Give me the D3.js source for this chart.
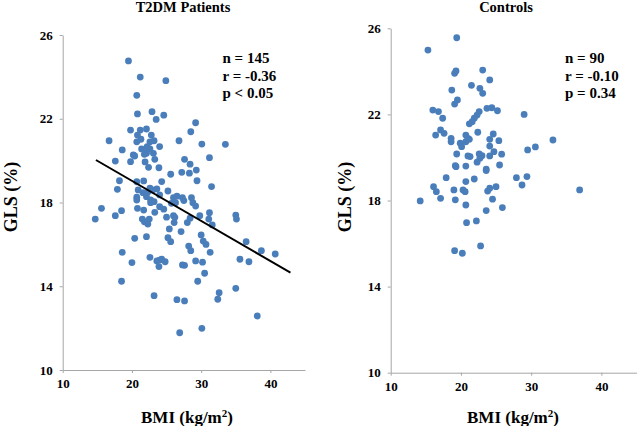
<!DOCTYPE html>
<html>
<head>
<meta charset="utf-8">
<script src="https://cdn.jsdelivr.net/npm/d3@7"></script>
<style>
  body { margin: 0; background: #fff; }
  text { font-family: "Liberation Serif", "Times New Roman", serif; font-weight: bold; fill: #000; }
  .axis path, .axis line { stroke: #a6a6a6; }
</style>
</head>
<body>
<div id="chart"></div>
<script>
// T2DM patients: BMI (kg/m2) vs GLS (%)
var t2dmBMI = [19.5,21.2,24.9,20.7,20.8,22.9,24.6,23.5,29.2,28.5,19.8,21.2,22.1,20.8,21.3,20.7,22.8,23.2,22.6,22.2,
  16.7,26.8,30.1,33.5,24.0,21.4,22.1,22.6,23.1,22.1,18.6,20.2,20.4,23.3,19.8,17.6,21.9,22.4,23.9,31.2,
  27.6,28.4,25.6,27.2,28.3,29.3,29.4,31.5,18.2,17.9,20.7,21.7,20.9,21.6,22.6,23.0,23.6,20.7,22.1,22.7,
  23.2,25.2,24.0,26.0,27.3,27.5,28.6,28.8,29.2,14.7,15.6,17.6,18.5,20.8,21.7,21.5,21.8,22.3,22.5,22.7,
  24.0,24.6,23.3,25.7,26.0,26.2,26.1,28.0,28.4,29.8,31.2,31.1,31.6,35.0,35.1,25.4,27.1,25.2,25.6,30.0,
  30.3,30.7,28.2,28.5,31.3,36.5,24.0,24.8,27.3,27.6,29.2,30.2,30.5,29.5,35.6,36.9,32.6,32.4,35.0,26.5,
  27.6,26.9,30.1,38.1,20.4,22.1,18.6,20.0,22.6,23.6,23.9,24.3,18.5,23.2,38.7,40.7,26.3,20.7,22.3,24.3,
  26.5,21.8,25.0];
var t2dmGLS = [24.76,23.99,23.82,23.12,22.23,22.34,22.17,21.97,21.81,21.38,21.46,21.46,21.51,21.22,21.02,20.90,21.22,20.95,20.90,20.67,
  20.95,20.95,20.79,20.78,20.67,20.56,20.46,20.56,20.35,20.35,20.51,20.27,20.22,20.06,19.95,19.98,19.94,19.68,19.66,20.14,
  20.06,19.83,19.35,19.44,19.40,19.55,19.04,18.76,19.04,18.63,18.99,19.03,18.60,18.47,18.68,18.60,18.65,18.25,18.28,18.12,
  18.04,18.55,18.36,18.23,18.23,18.09,18.23,17.99,17.83,17.21,17.72,17.37,17.61,17.72,17.64,17.21,17.08,16.97,17.21,17.99,
  17.80,17.68,17.53,17.96,17.37,17.29,17.04,17.04,17.25,17.37,17.51,17.21,16.93,17.40,17.21,16.74,16.61,16.32,16.13,16.45,
  16.16,16.00,15.92,15.70,15.62,16.13,15.25,15.17,15.02,15.00,15.21,15.15,14.62,14.24,15.29,15.17,13.69,13.38,13.90,13.36,
  13.30,11.78,11.99,12.58,16.29,16.37,15.62,15.13,15.38,15.21,14.94,15.29,14.24,13.55,15.70,15.54,17.99,18.12,18.50,19.00,
  18.30,20.30,17.30];
var t2dmFitBMI = [14.8, 42.9];
var t2dmFitGLS = [20.03, 14.65];
var t2dmStats = ["n = 145", "r = -0.36", "p < 0.05"];

// Controls
var ctrlBMI = [19.4,15.3,19.3,19.1,23.1,24.1,18.7,21.5,22.7,23.1,19.5,19.1,16.0,16.8,17.4,23.7,24.4,25.2,22.6,22.3,
  21.9,21.6,21.2,29.0,17.1,17.6,16.4,18.6,18.6,20.7,21.0,22.4,24.6,19.9,20.1,20.7,21.2,24.1,25.4,33.1,
  24.1,24.7,30.6,29.5,19.4,21.0,21.3,22.6,23.0,22.7,22.3,24.1,25.8,19.2,19.3,20.7,23.6,23.6,25.5,17.9,
  21.9,20.7,27.9,29.4,28.7,16.1,16.5,25.0,24.1,23.8,19.0,20.3,20.6,17.1,19.2,24.5,14.2,36.9,20.7,23.6,
  25.9,20.8,22.2,19.1,20.2,22.8];
var ctrlGLS = [25.56,24.99,24.02,23.91,24.06,23.60,23.13,23.35,23.21,22.98,22.67,22.48,22.20,22.13,21.82,22.28,22.31,22.17,22.13,21.97,
  21.82,21.66,21.56,22.00,21.28,21.12,21.04,20.89,20.73,21.04,20.89,21.17,21.09,20.66,20.50,20.73,20.84,20.84,20.78,20.81,
  20.53,20.27,20.49,20.35,20.16,20.07,20.04,20.16,20.08,19.96,19.78,20.07,20.15,19.62,19.57,19.60,19.39,19.46,19.65,19.06,
  19.00,18.88,19.06,19.11,18.72,18.64,18.41,18.64,18.57,18.44,18.49,18.49,18.41,18.10,18.03,18.06,17.98,18.49,17.79,17.53,
  17.67,16.97,17.05,15.67,15.55,15.89];
var ctrlStats = ["n = 90", "r = -0.10", "p = 0.34"];

var xTicks = [10, 20, 30, 40];
var yTicks = [10, 14, 18, 22, 26];

var width = 638, height = 426;
var dotColor = "#4a7ebb";

var svg = d3.select("#chart").append("svg")
  .attr("width", width)
  .attr("height", height);

function drawPanel(opt) {
  var x = d3.scaleLinear().domain([10, 45]).range([opt.left, opt.right]);
  var y = d3.scaleLinear().domain([10, 26]).range([opt.bottom, opt.top]);

  var g = svg.append("g");

  var xAxis = d3.axisBottom(x).tickValues(xTicks).tickSize(3).tickPadding(6).tickSizeOuter(0);
  var yAxis = d3.axisLeft(y).tickValues(yTicks).tickSize(3).tickPadding(7).tickSizeOuter(0);

  g.append("g")
    .attr("class", "axis")
    .attr("transform", "translate(0," + opt.bottom + ")")
    .call(xAxis);
  g.append("g")
    .attr("class", "axis")
    .attr("transform", "translate(" + opt.left + ",0)")
    .call(yAxis);

  g.selectAll(".axis text")
    .style("font-family", "Liberation Serif, serif")
    .style("font-weight", "bold")
    .style("font-size", "13px")
    .attr("fill", "#000");

  // dots
  var pts = opt.bmi.map(function(d, i) { return {bmi: d, gls: opt.gls[i]}; });
  g.selectAll("circle.dot").data(pts).enter().append("circle")
    .attr("class", "dot")
    .attr("cx", function(d) { return x(d.bmi); })
    .attr("cy", function(d) { return y(d.gls); })
    .attr("r", 3.4)
    .attr("fill", dotColor);

  // regression line (only for T2DM)
  if (opt.fitX) {
    g.append("line")
      .attr("x1", x(opt.fitX[0])).attr("y1", y(opt.fitY[0]))
      .attr("x2", x(opt.fitX[1])).attr("y2", y(opt.fitY[1]))
      .attr("stroke", "#000")
      .attr("stroke-width", 2);
  }

  // title
  g.append("text")
    .attr("x", opt.titleX).attr("y", 12)
    .attr("text-anchor", "middle")
    .style("font-size", "14.5px")
    .text(opt.title);

  // stats
  g.selectAll("text.stat").data(opt.stats).enter().append("text")
    .attr("class", "stat")
    .attr("x", opt.statX)
    .attr("y", function(d, i) { return opt.statY + i * 17.7; })
    .style("font-size", "15px")
    .text(function(d) { return d; });

  // x title
  var xt = g.append("text")
    .attr("x", opt.xTitleX).attr("y", 423)
    .attr("text-anchor", "middle")
    .style("font-size", "17px");
  xt.append("tspan").text("BMI (kg/m");
  xt.append("tspan").attr("dy", -6).style("font-size", "11px").text("2");
  xt.append("tspan").attr("dy", 6).text(")");

  // y title
  g.append("text")
    .attr("transform", "translate(" + opt.yTitleX + "," + opt.yTitleY + ") rotate(-90)")
    .attr("text-anchor", "middle")
    .style("font-size", "18px")
    .text("GLS (%)");
}

drawPanel({
  left: 62.7, right: 305, top: 35, bottom: 370,
  bmi: t2dmBMI, gls: t2dmGLS, fitX: t2dmFitBMI, fitY: t2dmFitGLS,
  title: "T2DM Patients", titleX: 183,
  stats: t2dmStats, statX: 222.5, statY: 63,
  xTitleX: 187, yTitleX: 17, yTitleY: 197
});

drawPanel({
  left: 390.7, right: 636.5, top: 28.3, bottom: 372.7,
  bmi: ctrlBMI, gls: ctrlGLS,
  title: "Controls", titleX: 506,
  stats: ctrlStats, statX: 565, statY: 63,
  xTitleX: 513, yTitleX: 351, yTitleY: 197
});
</script>
</body>
</html>
